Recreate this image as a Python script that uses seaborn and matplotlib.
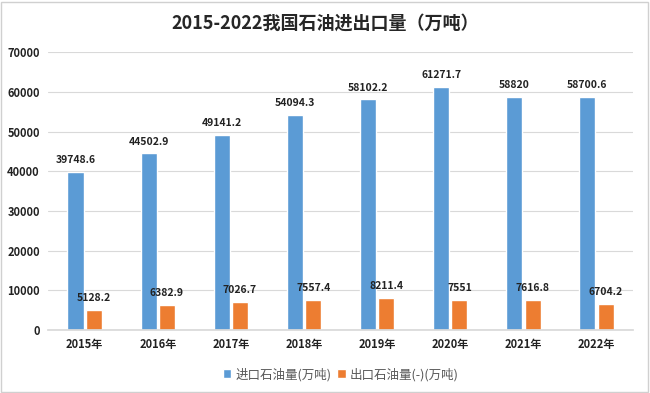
import matplotlib
matplotlib.use("Agg")
import matplotlib.pyplot as plt
import seaborn as sns
import pandas as pd

# data
years = ["2015年", "2016年", "2017年", "2018年", "2019年", "2020年", "2021年", "2022年"]
imports = [39748.6, 44502.9, 49141.2, 54094.3, 58102.2, 61271.7, 58820, 58700.6]
exports = [5128.2, 6382.9, 7026.7, 7557.4, 8211.4, 7551, 7616.8, 6704.2]
series_names = ["进口石油量(万吨)", "出口石油量(-)(万吨)"]
label_texts = [
    ["39748.6", "44502.9", "49141.2", "54094.3", "58102.2", "61271.7", "58820", "58700.6"],
    ["5128.2", "6382.9", "7026.7", "7557.4", "8211.4", "7551", "7616.8", "6704.2"],
]

df = pd.DataFrame({
    "year": years * 2,
    "value": imports + exports,
    "series": [series_names[0]] * len(years) + [series_names[1]] * len(years),
})

sns.set_theme(style="white")
plt.rcParams["font.family"] = ["Noto Sans CJK SC", "DejaVu Sans"]

fig = plt.figure(figsize=(6.5, 3.93), dpi=100)
ax = fig.add_axes([0.074, 0.16, 0.9, 0.707])

sns.barplot(data=df, x="year", y="value", hue="series",
            palette=["#5B9BD5", "#ED7D31"], width=0.5, gap=0.12,
            saturation=1, ax=ax)

# value labels on top of the bars
for cont, texts in zip(ax.containers, label_texts):
    ax.bar_label(cont, labels=texts, padding=5, fontsize=7.5, fontweight="bold", color="#222222")

ax.set_ylim(0, 70000)
ax.set_yticks(range(0, 70001, 10000))
ax.yaxis.grid(True, color="#d9d9d9", linewidth=0.8)
ax.set_axisbelow(True)
for s in ["top", "right", "left"]:
    ax.spines[s].set_visible(False)
ax.spines["bottom"].set_color("#d9d9d9")
ax.set_xlabel("")
ax.set_ylabel("")
ax.tick_params(axis="both", length=0, labelsize=8, pad=6)
for lbl in ax.get_xticklabels() + ax.get_yticklabels():
    lbl.set_fontweight("bold")
    lbl.set_color("#222222")

ax.legend(loc="upper center", bbox_to_anchor=(0.5, -0.095), ncol=2, frameon=False,
          fontsize=9, handlelength=0.7, handleheight=0.7, handletextpad=0.3,
          columnspacing=0.5, labelcolor="#595959")

fig.suptitle("2015-2022我国石油进出口量（万吨）", y=0.965, fontsize=13, fontweight="bold")

# light grey frame around the whole picture
fig.patches.append(plt.Rectangle((0.002, 0.003), 0.995, 0.993, transform=fig.transFigure,
                                 fill=False, edgecolor="#d0d0d0", linewidth=1))

fig.savefig("out.png", dpi=100)
